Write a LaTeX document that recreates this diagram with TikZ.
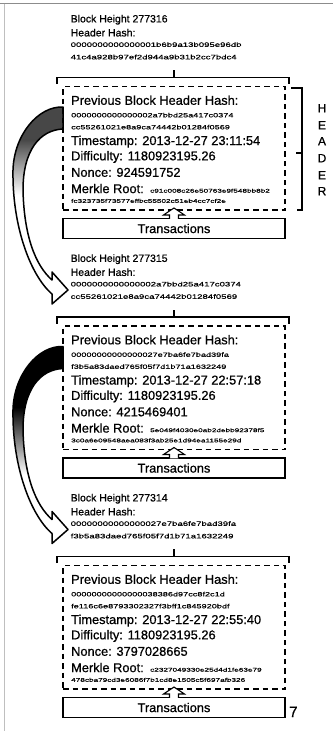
\documentclass[tikz,border=0pt]{standalone}
\usepackage{fontspec}
\setmainfont[FakeBold=0.7]{Liberation Sans}
\newfontfamily\hashfont[FakeStretch=1.5,FakeBold=0.5]{Liberation Sans}
\newfontfamily\merklefont[FakeStretch=1.55,FakeBold=0.4]{Liberation Sans}
\usetikzlibrary{calc}
\tikzset{
  big/.style={anchor=base west, inner sep=0pt, font=\fontsize{12.8}{14}\selectfont},
  lbl/.style={anchor=base west, inner sep=0pt, font=\fontsize{10.5}{12}\selectfont},
  hasho/.style={anchor=base west, inner sep=0pt, font=\hashfont\fontsize{6.4}{7}\selectfont},
  hashp/.style={anchor=base west, inner sep=0pt, font=\hashfont\fontsize{6.1}{7}\selectfont},
  hashm/.style={anchor=base west, inner sep=0pt, font=\merklefont\fontsize{5.3}{6}\selectfont},
  hdrbox/.style={draw, dash pattern=on 5.5pt off 4pt, line width=1.3pt, minimum width=222pt, minimum height=123.5pt, anchor=north west, inner sep=0pt, outer sep=0pt},
  txbox/.style={draw, line width=1.2pt, minimum width=222pt, minimum height=20pt, anchor=north west, inner sep=0pt, outer sep=0pt, font=\fontsize{12.8}{14}\selectfont},
  brk/.style={line width=1.1pt},
  uparrow/.style={draw, fill=white, line width=1.1pt, line join=miter},
  bigarrow/.style={line width=1.5pt, line join=round},
  hdrletter/.style={anchor=base, inner sep=0pt, font=\fontsize{12}{14}\selectfont},
}
\newcommand\curvpath{(63,107) .. controls (38,106) and (14,135) .. (13,170) .. controls (12,225) and (30,275) .. (52,294) -- (52,304) -- (68,290) -- (52,272) -- (52,280) .. controls (35,265) and (24,235) .. (23,190) .. controls (23,150) and (40,130) .. (63,129) -- cycle}
\newcommand\smallarrow[2]{%
  \draw[uparrow] ($(#1.north)+(-4.5,0.3)$) -- ($(#2.south)+(-4.5,5)$) -- ($(#2.south)+(-10.5,5)$) -- ($(#2.south)+(0,-2)$) -- ($(#2.south)+(10.5,5)$) -- ($(#2.south)+(4.5,5)$) -- ($(#1.north)+(4.5,0.3)$);}
\begin{document}
\begin{tikzpicture}[x=1pt,y=-1pt]
\useasboundingbox (0,0) rectangle (333,731);
\draw[black!45, line width=0.8pt] (0,3.5) -- (333,3.5);
\draw[black!25, line width=0.6pt] (4,3.5) -- (4,731);

% ---------- curved arrows ----------
\begin{scope}
  \fill[white] \curvpath;
  \begin{scope}
    \clip \curvpath;
    \fill[black!72] (0,95) rectangle (70,140);
    \shade[top color=black!72, bottom color=white] (0,139.5) rectangle (70,195);
  \end{scope}
  \draw[bigarrow] \curvpath;
\end{scope}
\begin{scope}[yshift=-239.5pt]
  \fill[white] \curvpath;
  \begin{scope}
    \clip \curvpath;
    \fill[black] (0,95) rectangle (70,168);
    \shade[top color=black, bottom color=white] (0,167.5) rectangle (70,235);
  \end{scope}
  \draw[bigarrow] \curvpath;
\end{scope}

% ---------- block 277316 ----------
\node[lbl] (bh1) at (70.5,22.4) {Block Height 277316};
\node[lbl] (hh1) at (70.5,36.4) {Header Hash:};
\node[hasho] (ha1) at (70.5,46.9) {0000000000000001b6b9a13b095e96db};
\node[hasho] (hb1) at (70.5,59.3) {41c4a928b97ef2d944a9b31b2cc7bdc4};
\draw[brk] (57,84) -- (57,77.5) -- (289,77.5) -- (289,84) (174,77.5) -- (174,70);
\node[hdrbox] (hdr1) at (63,86.5) {};
\node[big] (pv1) at (71,104.8) {Previous Block Header Hash:};
\node[hashp] (pa1) at (71,117.3) {0000000000000002a7bbd25a417c0374};
\node[hashp] (pb1) at (71,129.3) {cc55261021e8a9ca74442b01284f0569};
\node[big] (ts1) at (71,145) {Timestamp: 2013-12-27 23:11:54};
\node[big] (df1) at (71,160.3) {Difficulty: 1180923195.26};
\node[big] (nc1) at (71,176.8) {Nonce: 924591752};
\node[big] (mr1) at (71,193.1) {Merkle Root:};
\node[hashm] (ma1) at (150,192.6) {c91c008c26e50763e9f548bb8b2};
\node[hashm] (mb1) at (71,202.8) {fc323735f73577effbc55502c51eb4cc7cf2e};
\node[txbox] (tx1) at (63,218.5) {Transactions};
\smallarrow{tx1}{hdr1}

% HEADER bracket
\draw[brk] (291,88) -- (302,88) -- (302,210) -- (297,210) (302,153) -- (296,153);
\foreach \l/\yy [count=\i] in {H/108,E/125,A/141,D/158,E/175,R/191}
  \node[hdrletter] (hl\i) at (322,\yy+4.3) {\l};

% ---------- block 277315 ----------
\begin{scope}[yshift=-239.5pt]
\node[lbl] (bh2) at (70.5,22.4) {Block Height 277315};
\node[lbl] (hh2) at (70.5,36.4) {Header Hash:};
\node[hasho] (ha2) at (70.5,46.9) {0000000000000002a7bbd25a417c0374};
\node[hasho] (hb2) at (70.5,59.3) {cc55261021e8a9ca74442b01284f0569};
\draw[brk] (57,84) -- (57,77.5) -- (289,77.5) -- (289,84) (174,77.5) -- (174,70);
\node[hdrbox] (hdr2) at (63,86.5) {};
\node[big] (pv2) at (71,104.8) {Previous Block Header Hash:};
\node[hashp] (pa2) at (71,117.3) {00000000000000027e7ba6fe7bad39fa};
\node[hashp] (pb2) at (71,129.3) {f3b5a83daed765f05f7d1b71a1632249};
\node[big] (ts2) at (71,145) {Timestamp: 2013-12-27 22:57:18};
\node[big] (df2) at (71,160.3) {Difficulty: 1180923195.26};
\node[big] (nc2) at (71,176.8) {Nonce: 4215469401};
\node[big] (mr2) at (71,193.1) {Merkle Root:};
\node[hashm] (ma2) at (150,192.6) {5e049f4030e0ab2debb92378f5};
\node[hashm] (mb2) at (71,202.8) {3c0a6e09548aea083f3ab25e1d94ea1155e29d};
\node[txbox] (tx2) at (63,218.5) {Transactions};
\smallarrow{tx2}{hdr2}
\end{scope}

% ---------- block 277314 ----------
\begin{scope}[yshift=-479pt]
\node[lbl] (bh3) at (70.5,22.4) {Block Height 277314};
\node[lbl] (hh3) at (70.5,36.4) {Header Hash:};
\node[hasho] (ha3) at (70.5,46.9) {00000000000000027e7ba6fe7bad39fa};
\node[hasho] (hb3) at (70.5,59.3) {f3b5a83daed765f05f7d1b71a1632249};
\draw[brk] (57,84) -- (57,77.5) -- (289,77.5) -- (289,84) (174,77.5) -- (174,70);
\node[hdrbox] (hdr3) at (63,86.5) {};
\node[big] (pv3) at (71,104.8) {Previous Block Header Hash:};
\node[hashp] (pa3) at (71,117.3) {00000000000000038386d97cc8f2c1d};
\node[hashp] (pb3) at (71,129.3) {fe116c6e8793302327f3bff1c845920bdf};
\node[big] (ts3) at (71,145) {Timestamp: 2013-12-27 22:55:40};
\node[big] (df3) at (71,160.3) {Difficulty: 1180923195.26};
\node[big] (nc3) at (71,176.8) {Nonce: 3797028665};
\node[big] (mr3) at (71,193.1) {Merkle Root:};
\node[hashm] (ma3) at (150,192.6) {c2327049330e25d4d1fe63e79};
\node[hashm] (mb3) at (71,202.8) {478cba79cd3e6086f7b1cd8e1505c5f697afb326};
\node[txbox] (tx3) at (63,218.5) {Transactions};
\smallarrow{tx3}{hdr3}
\node[anchor=base west, inner sep=0pt, font=\fontsize{15}{17}\selectfont] (pg) at (289,238) {7};
\end{scope}
\end{tikzpicture}
\end{document}
